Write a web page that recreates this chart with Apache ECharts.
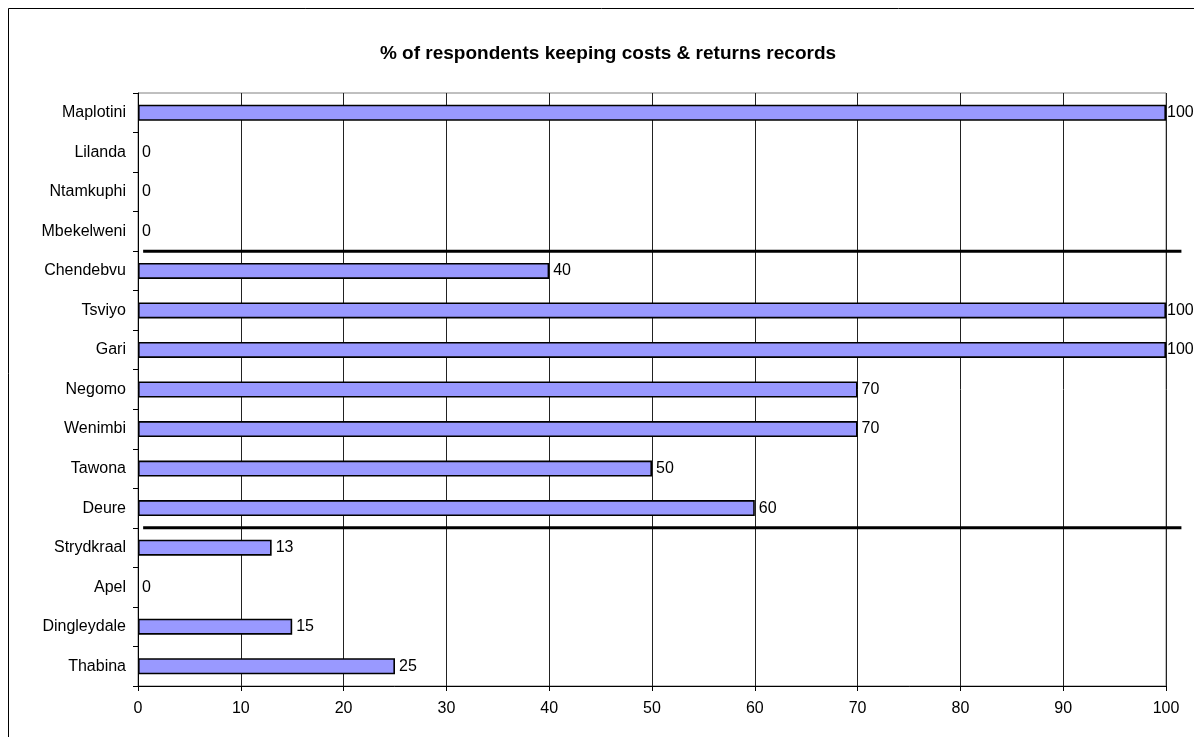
<!DOCTYPE html>
<html>
<head>
<meta charset="utf-8">
<script src="https://cdn.jsdelivr.net/npm/echarts@6/dist/echarts.min.js"></script>
<style>
html,body{margin:0;padding:0;background:#fff;}
#chart{width:1194px;height:737px;}
</style>
</head>
<body>
<div id="chart"></div>
<script>
// Categories listed top to bottom
var categories = ["Maplotini","Lilanda","Ntamkuphi","Mbekelweni","Chendebvu","Tsviyo","Gari","Negomo","Wenimbi","Tawona","Deure","Strydkraal","Apel","Dingleydale","Thabina"];
var values = [100,0,0,0,40,100,100,70,70,50,60,13,0,15,25];
var xTicks = [0,10,20,30,40,50,60,70,80,90,100];
// Group separator lines: [x, rowBoundaryFromBottom] pairs
var separatorA = [[0.5,11],[101.5,11]];
var separatorB = [[0.5,4],[101.5,4]];

var FONT = 'Liberation Sans, Arial, sans-serif';
var chart = echarts.init(document.getElementById('chart'), null, {renderer:'canvas'});
var barData = values.map(function(v){
  if (v === 0) return {value:v, itemStyle:{borderWidth:0}};
  if (v === 100) return {value:v, label:{distance:1}};
  return v;
});
chart.setOption({
  backgroundColor:'#ffffff',
  animation:false,
  title:{
    text:'% of respondents keeping costs & returns records',
    left:603, top:39, textAlign:'center',
    textStyle:{fontFamily:FONT,fontSize:19,fontWeight:'bold',color:'#000'}
  },
  grid:{left:138,right:28,top:93,bottom:51,show:true,borderColor:'#808080',borderWidth:1,backgroundColor:'transparent'},
  xAxis:[{
    type:'value',min:0,max:100,interval:10,
    axisLine:{show:true,lineStyle:{color:'#000',width:1}},
    axisTick:{show:true,length:5,lineStyle:{color:'#000'}},
    splitLine:{show:true,lineStyle:{color:'#222',width:1}},
    axisLabel:{fontFamily:FONT,fontSize:16,color:'#000',margin:15,
      formatter:function(v){return xTicks.indexOf(v)>=0?String(v):'';}}
  }],
  yAxis:[{
    type:'category',data:categories,inverse:true,
    axisLine:{show:true,lineStyle:{color:'#000',width:1}},
    axisTick:{show:true,length:5,inside:false,lineStyle:{color:'#000'}},
    axisLabel:{fontFamily:FONT,fontSize:16,color:'#000',margin:12},
    splitLine:{show:false}
  },{
    type:'value',min:0,max:15,show:false
  }],
  series:[{
    type:'bar',
    data:barData,
    barWidth:16,
    itemStyle:{color:'#9999FF',borderColor:'#000',borderWidth:1.6},
    label:{show:true,position:'right',distance:4,fontFamily:FONT,fontSize:16,color:'#000'},
    z:3
  }]
});
function toPx(p){ return chart.convertToPixel({xAxisIndex:0,yAxisIndex:1}, p); }
var graphics = [{
  type:'rect', silent:true, z:-1,
  shape:{x:8.5,y:8.5,width:1300,height:900},
  style:{fill:'none',stroke:'#000',lineWidth:1}
}];
[separatorA, separatorB].forEach(function(seg){
  var a = toPx(seg[0]), b = toPx(seg[1]);
  graphics.push({type:'line', silent:true, z:10,
    shape:{x1:a[0],y1:a[1],x2:b[0],y2:b[1]},
    style:{stroke:'#000',lineWidth:3}});
});
chart.setOption({graphic:graphics});
</script>
</body>
</html>
